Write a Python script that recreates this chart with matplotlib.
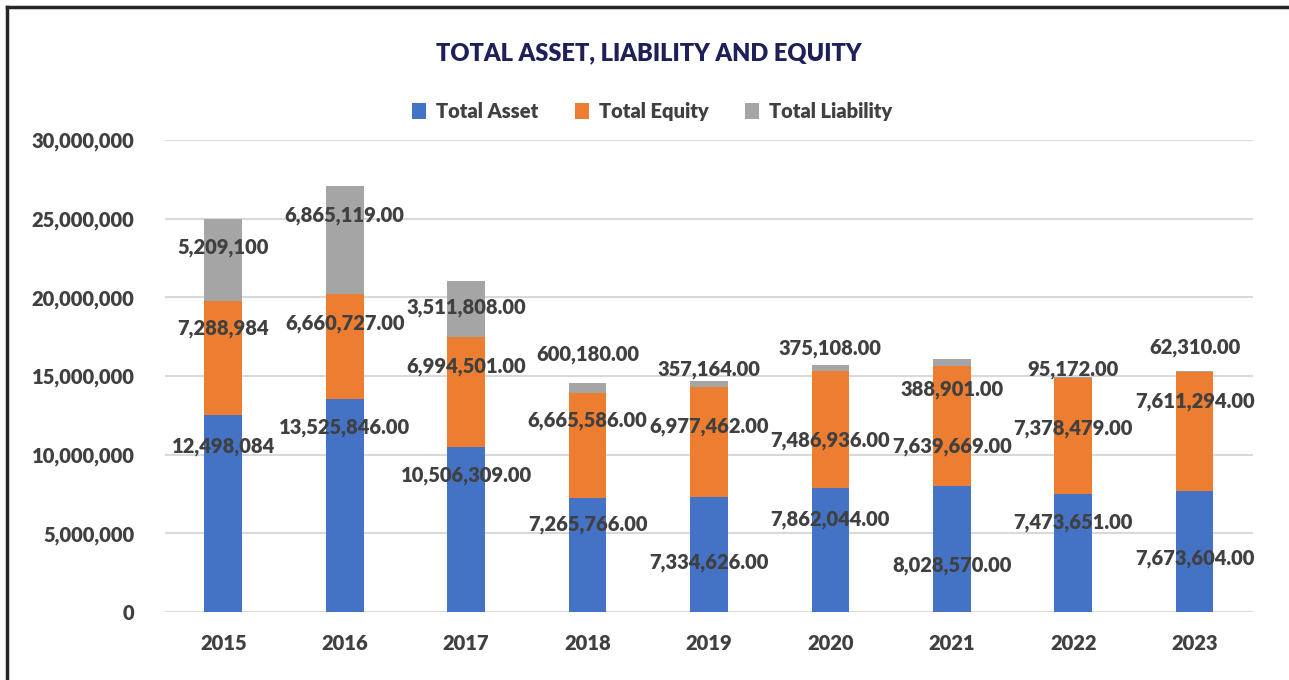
import matplotlib.pyplot as plt
from matplotlib.lines import Line2D
from matplotlib.ticker import FuncFormatter

plt.rcParams['font.family'] = ['Lato', 'DejaVu Sans']

years = ['2015', '2016', '2017', '2018', '2019', '2020', '2021', '2022', '2023']
total_asset = [12498084, 13525846, 10506309, 7265766, 7334626, 7862044, 8028570, 7473651, 7673604]
total_equity = [7288984, 6660727, 6994501, 6665586, 6977462, 7486936, 7639669, 7378479, 7611294]
total_liability = [5209100, 6865119, 3511808, 600180, 357164, 375108, 388901, 95172, 62310]
asset_labels = ['12,498,084', '13,525,846.00', '10,506,309.00', '7,265,766.00', '7,334,626.00',
                '7,862,044.00', '8,028,570.00', '7,473,651.00', '7,673,604.00']
equity_labels = ['7,288,984', '6,660,727.00', '6,994,501.00', '6,665,586.00', '6,977,462.00',
                 '7,486,936.00', '7,639,669.00', '7,378,479.00', '7,611,294.00']
liability_labels = ['5,209,100', '6,865,119.00', '3,511,808.00', '600,180.00', '357,164.00',
                    '375,108.00', '388,901.00', '95,172.00', '62,310.00']

# label offsets in pixels below the top of each segment (negative = above)
asset_off = [31, 28, 29, 27, 66, 31, 80, 28, 67]
equity_off = [28, 29, 30, 28, 40, 70, 81, 50, 30]
liab_off = [29, 29, 26, -29, -12, -16, 30, -7, -23]

c_asset, c_equity, c_liab = '#4472c4', '#ed7d31', '#a5a5a5'
txt = '#404040'
wt = 'heavy'

fig = plt.figure(figsize=(12.89, 6.8), dpi=100)
ax = fig.add_axes([0.128, 0.1, 0.844, 0.694])

x = range(len(years))
w = 0.31
bottom2 = [a + e for a, e in zip(total_asset, total_equity)]
ax.bar(x, total_asset, w, color=c_asset, label='Total Asset', zorder=2)
ax.bar(x, total_equity, w, bottom=total_asset, color=c_equity, label='Total Equity', zorder=2)
ax.bar(x, total_liability, w, bottom=bottom2, color=c_liab, label='Total Liability', zorder=2)

tops_a = total_asset
tops_e = bottom2
tops_l = [b + l for b, l in zip(bottom2, total_liability)]
for i in x:
    for top, lab, off in ((tops_a[i], asset_labels[i], asset_off[i]),
                          (tops_e[i], equity_labels[i], equity_off[i]),
                          (tops_l[i], liability_labels[i], liab_off[i])):
        ax.annotate(lab, (i, top), xytext=(0, -off), textcoords='offset pixels',
                    ha='center', va='center', fontsize=14.5, fontweight=wt,
                    color=txt, zorder=3)

ax.set_xlim(-0.48, len(years) - 0.52)
ax.set_ylim(0, 30000000)
ax.set_yticks(range(0, 30000001, 5000000))
ax.yaxis.set_major_formatter(FuncFormatter(lambda v, p: f'{int(v):,}'))
ax.set_xticks(list(x))
ax.set_xticklabels(years)
ax.grid(axis='y', color='#d9d9d9', linewidth=1.5, zorder=0)
ax.set_axisbelow(True)
for s in ax.spines.values():
    s.set_visible(False)
ax.tick_params(length=0, labelsize=14.5, labelcolor=txt)
ax.tick_params(axis='x', pad=16)
ax.tick_params(axis='y', pad=22)
for t in ax.get_xticklabels() + ax.get_yticklabels():
    t.set_fontweight(wt)

fig.text(0.503, 0.921, 'TOTAL ASSET, LIABILITY AND EQUITY', ha='center', va='center',
         fontsize=17, fontweight=wt, color='#1f1f5a')
fig.legend(loc='center', bbox_to_anchor=(0.506, 0.836), ncol=3, frameon=False,
           prop={'size': 14.5, 'weight': wt}, handlelength=0.7, handleheight=0.8,
           columnspacing=1.8, handletextpad=0.5, labelcolor=txt)

# outer frame (left and top edges)
fig.add_artist(Line2D([0.0055, 0.0055], [0, 0.99], transform=fig.transFigure, color='#262626', lw=2.5))
fig.add_artist(Line2D([0.0055, 1], [0.99, 0.99], transform=fig.transFigure, color='#262626', lw=2.5))

fig.savefig('out.png', dpi=100)
